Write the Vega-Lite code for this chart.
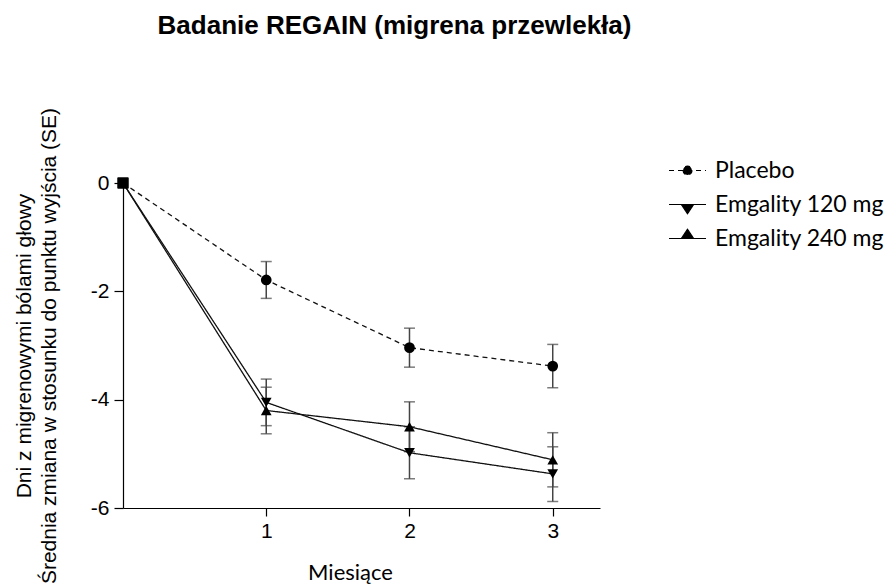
{
  "$schema": "https://vega.github.io/schema/vega-lite/v6.json",
  "width": 477,
  "height": 325,
  "autosize": {"type": "none"},
  "padding": {"left": 123, "top": 183, "right": 293, "bottom": 77},
  "background": "white",
  "config": {"view": {"stroke": null}, "font": "Liberation Sans"},
  "title": {
    "text": "Badanie REGAIN (migrena przewlekła)",
    "font": "Liberation Sans",
    "fontSize": 26,
    "fontWeight": "bold",
    "anchor": "middle",
    "frame": "group",
    "offset": 47,
    "dx": 33,
    "baseline": "alphabetic",
    "color": "black"
  },
  "data": {
    "values": [
      {"series": "Placebo", "month": 0, "mean": 0, "lo": 0, "hi": 0},
      {"series": "Placebo", "month": 1, "mean": -1.79, "lo": -2.13, "hi": -1.45},
      {"series": "Placebo", "month": 2, "mean": -3.04, "lo": -3.40, "hi": -2.68},
      {"series": "Placebo", "month": 3, "mean": -3.38, "lo": -3.78, "hi": -2.98},
      {"series": "Emgality 120 mg", "month": 0, "mean": 0, "lo": 0, "hi": 0},
      {"series": "Emgality 120 mg", "month": 1, "mean": -4.05, "lo": -4.48, "hi": -3.62},
      {"series": "Emgality 120 mg", "month": 2, "mean": -4.98, "lo": -5.46, "hi": -4.50},
      {"series": "Emgality 120 mg", "month": 3, "mean": -5.37, "lo": -5.88, "hi": -4.87},
      {"series": "Emgality 240 mg", "month": 0, "mean": 0, "lo": 0, "hi": 0},
      {"series": "Emgality 240 mg", "month": 1, "mean": -4.20, "lo": -4.63, "hi": -3.77},
      {"series": "Emgality 240 mg", "month": 2, "mean": -4.50, "lo": -4.96, "hi": -4.04},
      {"series": "Emgality 240 mg", "month": 3, "mean": -5.11, "lo": -5.61, "hi": -4.61}
    ]
  },
  "encoding": {
    "x": {
      "field": "month",
      "type": "quantitative",
      "scale": {"domain": [0, 3.33], "nice": false, "zero": false},
      "axis": {
        "values": [1, 2, 3],
        "format": "d",
        "grid": false,
        "domainColor": "black",
        "domainWidth": 1.2,
        "tickColor": "black",
        "tickWidth": 1.2,
        "tickSize": 8,
        "labelFont": "Liberation Sans",
        "labelFontSize": 21,
        "labelColor": "black",
        "labelPadding": 4,
        "title": "Miesiące",
        "titleFont": "Lato",
        "titleFontSize": 22,
        "titleFontWeight": "normal",
        "titleColor": "black",
        "titlePadding": 21,
        "titleX": 227
      }
    }
  },
  "layer": [
    {
      "transform": [{"filter": "datum.month > 0"}],
      "mark": {
        "type": "errorbar",
        "ticks": {"size": 11, "thickness": 1.5, "color": "#444"},
        "rule": {"strokeWidth": 1.5, "color": "#444"}
      },
      "encoding": {
        "y": {
          "field": "lo",
          "type": "quantitative",
          "scale": {"domain": [-6, 0], "nice": false},
          "axis": {
            "values": [-6, -4, -2, 0],
            "labelExpr": "toString(datum.value)",
            "grid": false,
            "domainColor": "black",
            "domainWidth": 1.2,
            "tickColor": "black",
            "tickWidth": 1.2,
            "tickSize": 9,
            "labelFont": "Liberation Sans",
            "labelFontSize": 21,
            "labelColor": "black",
            "labelPadding": 5,
            "title": ["Dni z migrenowymi bólami głowy", "Średnia zmiana w stosunku do punktu wyjścia (SE)"],
            "titleFont": "Liberation Sans",
            "titleFontSize": 21,
            "titleFontWeight": "normal",
            "titleColor": "black",
            "titleLineHeight": 25,
            "titlePadding": 31
          }
        },
        "y2": {"field": "hi"},
        "detail": {"field": "series"}
      }
    },
    {
      "mark": {"type": "line", "strokeWidth": 1.3, "color": "#111"},
      "encoding": {
        "y": {
          "field": "mean",
          "type": "quantitative",
          "scale": {"domain": [-6, 0], "nice": false},
          "axis": {
            "values": [-6, -4, -2, 0],
            "labelExpr": "toString(datum.value)",
            "grid": false,
            "domainColor": "black",
            "domainWidth": 1.2,
            "tickColor": "black",
            "tickWidth": 1.2,
            "tickSize": 9,
            "labelFont": "Liberation Sans",
            "labelFontSize": 21,
            "labelColor": "black",
            "labelPadding": 5,
            "title": ["Dni z migrenowymi bólami głowy", "Średnia zmiana w stosunku do punktu wyjścia (SE)"],
            "titleFont": "Liberation Sans",
            "titleFontSize": 21,
            "titleFontWeight": "normal",
            "titleColor": "black",
            "titleLineHeight": 25,
            "titlePadding": 31
          }
        },
        "detail": {"field": "series"},
        "strokeDash": {
          "field": "series",
          "type": "nominal",
          "scale": {
            "domain": ["Placebo", "Emgality 120 mg", "Emgality 240 mg"],
            "range": [[5, 4], [1, 0], [1, 0]]
          },
          "legend": {
            "title": null,
            "orient": "none",
            "legendX": 545,
            "legendY": -32,
            "symbolSize": 1369,
            "symbolStrokeWidth": 1.2,
            "symbolStrokeColor": "black",
            "symbolFillColor": "black",
            "labelFont": "Lato",
            "labelFontSize": 23,
            "labelColor": "black",
            "labelOffset": 8,
            "labelLimit": 400,
            "rowPadding": 2,
            "encode": {
              "symbols": {
                "update": {
                  "shape": {"signal": "datum.value === 'Placebo' ? 'M-1,0H1M0.24,0A0.24,0.24,0,1,1,-0.24,0A0.24,0.24,0,1,1,0.24,0Z' : (datum.value === 'Emgality 120 mg' ? 'M-1,0H1M-0.33,0L0.33,0L0,0.5Z' : 'M-1,0H1M-0.33,0L0.33,0L0,-0.5Z')"},
                  "fill": {"value": "black"},
                  "stroke": {"value": "black"}
                }
              }
            }
          }
        }
      }
    },
    {
      "mark": {"type": "point", "filled": true, "opacity": 1, "color": "black", "size": 115},
      "encoding": {
        "y": {
          "field": "mean",
          "type": "quantitative",
          "scale": {"domain": [-6, 0], "nice": false},
          "axis": {
            "values": [-6, -4, -2, 0],
            "labelExpr": "toString(datum.value)",
            "grid": false,
            "domainColor": "black",
            "domainWidth": 1.2,
            "tickColor": "black",
            "tickWidth": 1.2,
            "tickSize": 9,
            "labelFont": "Liberation Sans",
            "labelFontSize": 21,
            "labelColor": "black",
            "labelPadding": 5,
            "title": ["Dni z migrenowymi bólami głowy", "Średnia zmiana w stosunku do punktu wyjścia (SE)"],
            "titleFont": "Liberation Sans",
            "titleFontSize": 21,
            "titleFontWeight": "normal",
            "titleColor": "black",
            "titleLineHeight": 25,
            "titlePadding": 31
          }
        },
        "shape": {
          "condition": [
            {"test": "datum.month == 0", "value": "square"},
            {"test": "datum.series === 'Placebo'", "value": "circle"},
            {"test": "datum.series === 'Emgality 120 mg'", "value": "triangle-down"}
          ],
          "value": "triangle-up"
        }
      }
    }
  ]
}
